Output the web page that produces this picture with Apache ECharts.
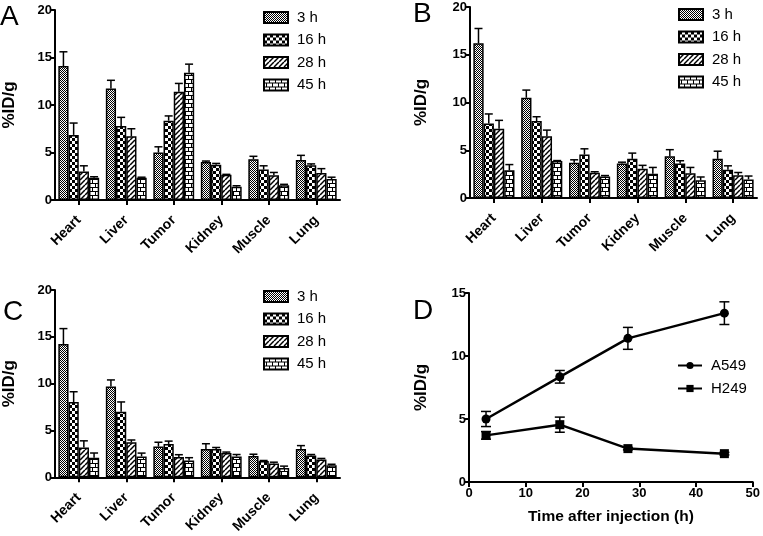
<!DOCTYPE html>
<html>
<head>
<meta charset="utf-8">
<script src="https://cdn.jsdelivr.net/npm/echarts@6/dist/echarts.min.js"></script>
<style>
html,body{margin:0;padding:0;background:#fff;}
#main{width:763px;height:536px;}
</style>
</head>
<body>
<div id="main"></div>
<script>
// ---------- DATA ----------
const categories = ['Heart', 'Liver', 'Tumor', 'Kidney', 'Muscle', 'Lung'];
const timeLabels = ['3 h', '16 h', '28 h', '45 h'];
const yTicksBar = [0, 5, 10, 15, 20];

// Panel A (rows: 3 h, 16 h, 28 h, 45 h; columns: categories)
const meanA = [
  [14.1, 11.75, 5.0, 4.0, 4.3, 4.2],
  [6.85, 7.8, 8.35, 3.7, 3.2, 3.65],
  [3.0, 6.7, 11.4, 2.65, 2.6, 2.85],
  [2.35, 2.35, 13.4, 1.4, 1.55, 2.2]
];
const errA = [
  [1.5, 0.85, 0.6, 0.1, 0.3, 0.5],
  [1.25, 0.9, 0.5, 0.15, 0.4, 0.15],
  [0.6, 0.8, 0.87, 0.05, 0.3, 0.45],
  [0.1, 0.05, 0.9, 0.1, 0.1, 0.2]
];
// Panel B
const meanB = [
  [16.2, 10.5, 3.7, 3.6, 4.36, 4.1],
  [7.8, 8.06, 4.55, 4.1, 3.6, 2.97],
  [7.26, 6.46, 2.65, 3.07, 2.6, 2.37],
  [2.9, 3.87, 2.25, 2.55, 1.85, 1.95]
];
const errB = [
  [1.55, 0.8, 0.3, 0.15, 0.7, 0.8],
  [1.0, 0.45, 0.6, 0.6, 0.3, 0.4],
  [0.87, 0.65, 0.1, 0.35, 0.6, 0.3],
  [0.6, 0.05, 0.1, 0.65, 0.35, 0.35]
];
// Panel C
const meanC = [
  [14.23, 9.7, 3.3, 3.04, 2.27, 3.04],
  [8.04, 7.0, 3.57, 3.04, 1.75, 2.34],
  [3.2, 3.74, 2.17, 2.6, 1.47, 1.92],
  [2.1, 2.24, 1.8, 2.24, 1.0, 1.3]
];
const errC = [
  [1.65, 0.7, 0.45, 0.55, 0.2, 0.35],
  [1.1, 1.05, 0.3, 0.15, 0.05, 0.1],
  [0.7, 0.25, 0.25, 0.1, 0.15, 0.1],
  [0.5, 0.35, 0.3, 0.2, 0.2, 0.1]
];
// Panel D
const timesD = [3, 16, 28, 45];
const a549 = [5.0, 8.35, 11.4, 13.4];
const a549Err = [0.6, 0.5, 0.87, 0.9];
const h249 = [3.7, 4.55, 2.65, 2.25];
const h249Err = [0.3, 0.6, 0.1, 0.1];

// ---------- STYLE HELPERS ----------
const FONT = '"Liberation Sans", Arial, sans-serif';

function makePattern(kind) {
  const c = document.createElement('canvas');
  let ctx;
  if (kind === 0) { // fine grey dots
    c.width = 4; c.height = 4; ctx = c.getContext('2d');
    ctx.fillStyle = '#fff'; ctx.fillRect(0, 0, 4, 4);
    ctx.fillStyle = '#000';
    for (let y = 0; y < 4; y++) for (let x = 0; x < 4; x++) if ((x + y) % 2 === 0) ctx.fillRect(x, y, 1, 1);
  } else if (kind === 1) { // checkerboard
    c.width = 6; c.height = 6; ctx = c.getContext('2d');
    ctx.fillStyle = '#fff'; ctx.fillRect(0, 0, 6, 6);
    ctx.fillStyle = '#000'; ctx.fillRect(0, 0, 3, 3); ctx.fillRect(3, 3, 3, 3);
  } else if (kind === 2) { // diagonal hatch
    c.width = 5; c.height = 5; ctx = c.getContext('2d');
    ctx.fillStyle = '#fff'; ctx.fillRect(0, 0, 5, 5);
    ctx.strokeStyle = '#000'; ctx.lineWidth = 1.5;
    [-5, 0, 5].forEach(o => { ctx.beginPath(); ctx.moveTo(o, 5); ctx.lineTo(o + 5, 0); ctx.stroke(); });
  } else { // bricks
    c.width = 12; c.height = 8; ctx = c.getContext('2d');
    ctx.fillStyle = '#000'; ctx.fillRect(0, 0, 12, 8);
    ctx.fillStyle = '#fff';
    ctx.fillRect(0, 0, 5, 3); ctx.fillRect(6, 0, 5, 3);
    ctx.fillRect(0, 4, 2, 3); ctx.fillRect(3, 4, 5, 3); ctx.fillRect(9, 4, 3, 3);
  }
  return { image: c, repeat: 'repeat' };
}
const patterns = [0, 1, 2, 3].map(makePattern);
const CAT_GAP = 0.14;

const grids = [
  { left: 52, top: 10, width: 288, height: 190 },
  { left: 470, top: 7, width: 287, height: 191 },
  { left: 52, top: 290, width: 288, height: 191 },
  { left: 469, top: 293, width: 287, height: 189 }
];

const axisLine = { show: true, onZero: false, lineStyle: { color: '#000', width: 2 } };
const axisTick = { show: true, length: 5, lineStyle: { color: '#000', width: 2 } };
const tickLabel = { color: '#000', fontFamily: FONT, fontWeight: 'bold', fontSize: 13 };

function barXAxis(i) {
  return {
    gridIndex: i, type: 'category', data: categories,
    axisLine: axisLine, axisTick: Object.assign({ alignWithLabel: true }, axisTick),
    axisLabel: { color: '#000', fontFamily: FONT, fontWeight: 'bold', fontSize: 14, rotate: 45, margin: 18, interval: 0 },
    splitLine: { show: false }
  };
}
function yAxisDef(i, max, gap) {
  return {
    gridIndex: i, type: 'value', min: 0, max: max, interval: 5,
    name: '%ID/g', nameLocation: 'middle', nameGap: gap,
    nameTextStyle: { color: '#000', fontFamily: FONT, fontWeight: 'bold', fontSize: 17 },
    axisLine: axisLine, axisTick: axisTick,
    axisLabel: Object.assign({ margin: 3 }, tickLabel),
    splitLine: { show: false }
  };
}

function barPanel(i, means, errs) {
  const out = [];
  timeLabels.forEach((t, k) => {
    out.push({
      type: 'bar', name: t, xAxisIndex: i, yAxisIndex: i, data: means[k],
      barGap: '0%', barCategoryGap: (CAT_GAP * 100) + '%',
      itemStyle: { color: patterns[k], borderColor: '#000', borderWidth: 1.5 },
      emphasis: { disabled: true }, z: 2
    });
  });
  const errData = [];
  means.forEach((row, k) => row.forEach((v, c) => errData.push([c, k, v, errs[k][c]])));
  out.push({
    type: 'custom', name: 'err' + i, xAxisIndex: i, yAxisIndex: i, data: errData,
    encode: { x: 0, y: 2 }, z: 3, silent: true,
    renderItem: function (params, api) {
      const c = api.value(0), k = api.value(1), v = api.value(2), e = api.value(3);
      const band = api.size([1, 0])[0];
      const barW = band * (1 - CAT_GAP) / 4;
      const x = api.coord([c, 0])[0] + (k - 1.5) * barW;
      const y1 = api.coord([c, v])[1];
      const y2 = api.coord([c, v + e])[1];
      const cw = 4;
      const st = { stroke: '#000', lineWidth: 1.5 };
      return {
        type: 'group', children: [
          { type: 'line', shape: { x1: x, y1: y1, x2: x, y2: y2 }, style: st },
          { type: 'line', shape: { x1: x - cw, y1: y2, x2: x + cw, y2: y2 }, style: st }
        ]
      };
    }
  });
  return out;
}

function errLine(name, xs, ys, es) {
  return {
    type: 'custom', name: name, xAxisIndex: 3, yAxisIndex: 3,
    data: xs.map((x, j) => [x, ys[j], es[j]]), encode: { x: 0, y: 1 }, z: 3, silent: true,
    renderItem: function (params, api) {
      const x = api.value(0), v = api.value(1), e = api.value(2);
      const p1 = api.coord([x, v - e]), p2 = api.coord([x, v + e]);
      const cw = 5, st = { stroke: '#000', lineWidth: 1.5 };
      return {
        type: 'group', children: [
          { type: 'line', shape: { x1: p1[0], y1: p1[1], x2: p2[0], y2: p2[1] }, style: st },
          { type: 'line', shape: { x1: p1[0] - cw, y1: p1[1], x2: p1[0] + cw, y2: p1[1] }, style: st },
          { type: 'line', shape: { x1: p2[0] - cw, y1: p2[1], x2: p2[0] + cw, y2: p2[1] }, style: st }
        ]
      };
    }
  };
}

const legendText = { color: '#000', fontFamily: FONT, fontSize: 15, padding: [0, 0, 0, 4] };
function barLegend(left, top) {
  return {
    left: left, top: top, padding: 0, orient: 'vertical', icon: 'rect', itemWidth: 24, itemHeight: 11, itemGap: 7.5,
    selectedMode: false, data: timeLabels, textStyle: legendText
  };
}

const letterFont = '28px ' + FONT;
const option = {
  animation: false,
  backgroundColor: '#fff',
  grid: grids,
  xAxis: [
    barXAxis(0), barXAxis(1), barXAxis(2),
    {
      gridIndex: 3, type: 'value', min: 0, max: 50, interval: 10,
      name: 'Time after injection (h)', nameLocation: 'middle', nameGap: 27,
      nameTextStyle: { color: '#000', fontFamily: FONT, fontWeight: 'bold', fontSize: 15.5 },
      axisLine: axisLine, axisTick: axisTick,
      axisLabel: Object.assign({ margin: 5 }, tickLabel), splitLine: { show: false }
    }
  ],
  yAxis: [yAxisDef(0, 20, 37), yAxisDef(1, 20, 40), yAxisDef(2, 20, 37), yAxisDef(3, 15, 39)],
  legend: [
    barLegend(263, 10),
    barLegend(678, 7),
    barLegend(263, 289),
    {
      left: 677, top: 358, padding: 0, orient: 'vertical', itemWidth: 24, itemHeight: 9, itemGap: 8,
      selectedMode: false, data: ['A549', 'H249'], textStyle: legendText
    }
  ],
  series: [].concat(
    barPanel(0, meanA, errA),
    barPanel(1, meanB, errB),
    barPanel(2, meanC, errC),
    [
      {
        type: 'line', name: 'A549', xAxisIndex: 3, yAxisIndex: 3,
        data: timesD.map((t, j) => [t, a549[j]]),
        symbol: 'circle', symbolSize: 9, itemStyle: { color: '#000' },
        lineStyle: { color: '#000', width: 2.5 }, emphasis: { disabled: true }, z: 4
      },
      {
        type: 'line', name: 'H249', xAxisIndex: 3, yAxisIndex: 3,
        data: timesD.map((t, j) => [t, h249[j]]),
        symbol: 'rect', symbolSize: 9, itemStyle: { color: '#000' },
        lineStyle: { color: '#000', width: 2.5 }, emphasis: { disabled: true }, z: 4
      },
      errLine('errA549', timesD, a549, a549Err),
      errLine('errH249', timesD, h249, h249Err)
    ]
  ),
  graphic: [
    { type: 'text', left: 0, top: 3, style: { text: 'A', font: letterFont, fill: '#000' } },
    { type: 'text', left: 413, top: 0, style: { text: 'B', font: letterFont, fill: '#000' } },
    { type: 'text', left: 3, top: 298, style: { text: 'C', font: letterFont, fill: '#000' } },
    { type: 'text', left: 413, top: 297, style: { text: 'D', font: letterFont, fill: '#000' } }
  ]
};

const chart = echarts.init(document.getElementById('main'), null, { renderer: 'canvas' });
chart.setOption(option);
</script>
</body>
</html>
